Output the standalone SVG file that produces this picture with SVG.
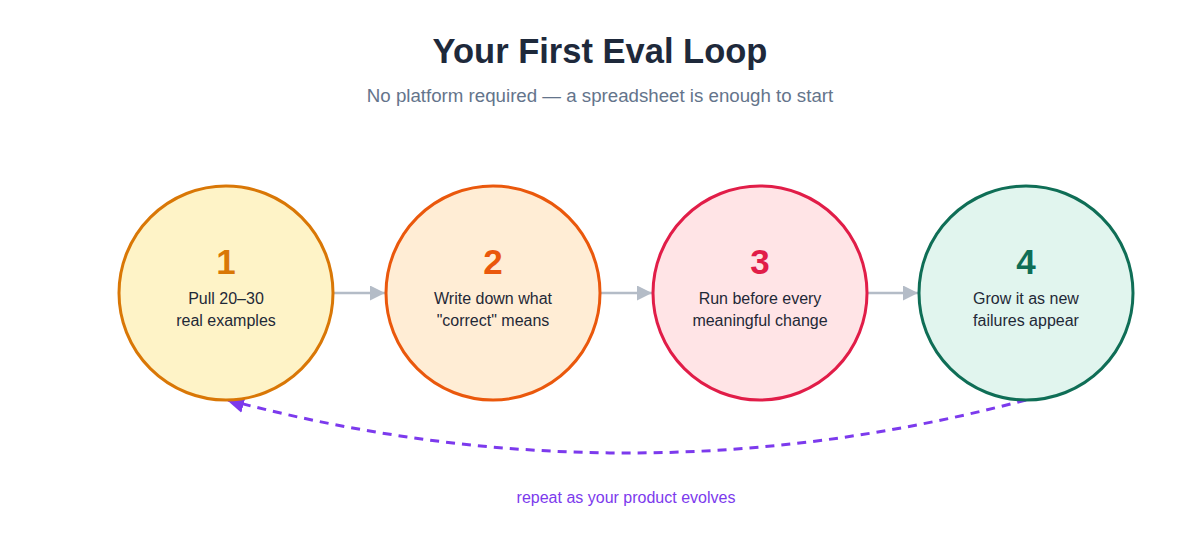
<svg xmlns="http://www.w3.org/2000/svg" width="1200" height="560" viewBox="0 0 1200 560">
<style>
text{font-family:"Liberation Sans",Arial,sans-serif;text-anchor:middle}
.title{font-size:34.5px;font-weight:bold;fill:#1e293b}
.sub{font-size:18.7px;fill:#64748b}
.num{font-size:35px;font-weight:bold}
.lbl{font-size:16px;fill:#1f2937}
.conn{stroke:#b4bcc7;stroke-width:2.5;fill:none}
.loop{stroke:#7c3aed;stroke-width:3;fill:none;stroke-dasharray:9 7}
.circ{stroke-width:3}
</style>
<defs>
<marker id="ah" viewBox="0 0 10 10" refX="10" refY="5" markerWidth="6" markerHeight="6" markerUnits="strokeWidth" orient="auto">
<path d="M0,0 L10,5 L0,10 z" fill="#b4bcc7"/>
</marker>
<marker id="ahp" viewBox="0 0 10 10" refX="9" refY="5" markerWidth="6" markerHeight="6" markerUnits="strokeWidth" orient="auto">
<path d="M0,0 L10,5 L0,10 z" fill="#7c3aed"/>
</marker>
</defs>
<rect width="1200" height="560" fill="#ffffff"/>
<text class="title" x="600" y="63">Your First Eval Loop</text>
<text class="sub" x="600" y="102">No platform required — a spreadsheet is enough to start</text>
<g id="connectors">
<line class="conn" x1="334" y1="293" x2="385" y2="293" marker-end="url(#ah)"/>
<line class="conn" x1="601" y1="293" x2="652" y2="293" marker-end="url(#ah)"/>
<line class="conn" x1="867" y1="293" x2="918" y2="293" marker-end="url(#ah)"/>
<path class="loop" d="M1026,400 Q626,506 228,400" marker-end="url(#ahp)"/>
<text x="626" y="503" style="font-size:16px;fill:#7c3aed">repeat as your product evolves</text>
</g>
<g id="node1">
<circle class="circ" cx="226" cy="293" r="107" fill="#fef3c7" stroke="#d97706"/>
<text class="num" x="226" y="274" fill="#d97706">1</text>
<text class="lbl" x="226" y="304">Pull 20–30</text>
<text class="lbl" x="226" y="326">real examples</text>
</g>
<g id="node2">
<circle class="circ" cx="493" cy="293" r="107" fill="#ffedd5" stroke="#ea580c"/>
<text class="num" x="493" y="274" fill="#ea580c">2</text>
<text class="lbl" x="493" y="304">Write down what</text>
<text class="lbl" x="493" y="326">"correct" means</text>
</g>
<g id="node3">
<circle class="circ" cx="760" cy="293" r="107" fill="#ffe4e6" stroke="#e11d48"/>
<text class="num" x="760" y="274" fill="#e11d48">3</text>
<text class="lbl" x="760" y="304">Run before every</text>
<text class="lbl" x="760" y="326">meaningful change</text>
</g>
<g id="node4">
<circle class="circ" cx="1026" cy="293" r="107" fill="#e1f5ee" stroke="#0f6e56"/>
<text class="num" x="1026" y="274" fill="#0f6e56">4</text>
<text class="lbl" x="1026" y="304">Grow it as new</text>
<text class="lbl" x="1026" y="326">failures appear</text>
</g>
</svg>
